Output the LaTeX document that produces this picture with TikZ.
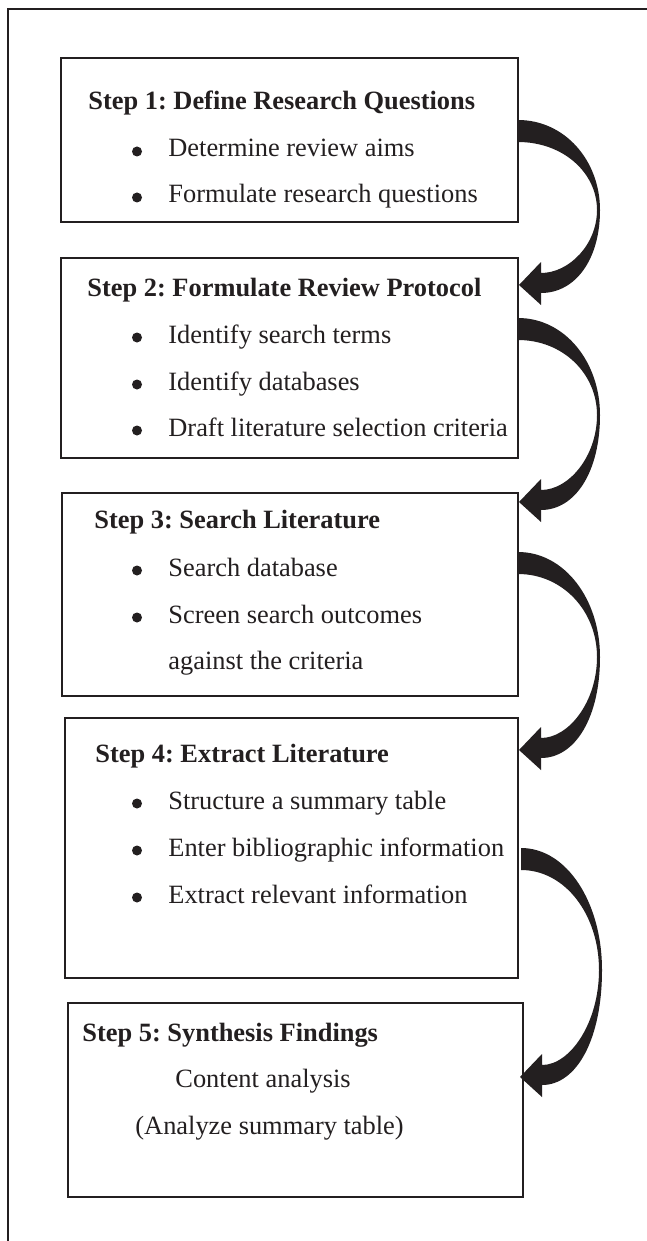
\documentclass[tikz,border=0pt]{standalone}
\usepackage{fontspec}
\setmainfont{Liberation Serif}
\usetikzlibrary{calc}
\definecolor{ink}{HTML}{231F20}
\frenchspacing

\tikzset{
  stepbox/.style={draw=ink, line width=1pt, rectangle, inner sep=0pt, outer sep=0pt},
  txt/.style={anchor=base west, inner sep=0pt, text=ink, font=\fontsize{13.2pt}{16pt}\selectfont},
  head/.style={txt, font=\fontsize{13.2pt}{16pt}\selectfont\bfseries},
  dot/.style={circle, fill=ink, inner sep=0pt, minimum size=5pt},
}

% Thick curved block arrow: #1 tail top point, #2 tip point,
% #3 horizontal bulge, #4 drop from tail to the widest point
\newcommand{\flowarrow}[4]{%
  \coordinate (fs) at #1;
  \coordinate (ft) at #2;
  \coordinate (fm) at ($(fs)+(#3,#4)$);
  \coordinate (fmi) at ($(fm)+(-3,0)$);
  \coordinate (fsb) at ($(fs)+(0,22)$);
  \coordinate (fto) at ($(ft)+(22,8)$);
  \coordinate (fti) at ($(ft)+(22,-12)$);
  \coordinate (fa) at (fs -| fm);
  \coordinate (fb) at (fm |- fs);
  \coordinate (fc) at (fm |- fto);
  \coordinate (fd) at (fto -| fm);
  \coordinate (fe) at (fti -| fmi);
  \coordinate (ff) at (fmi |- fti);
  \coordinate (fg) at (fmi |- fsb);
  \coordinate (fh) at (fsb -| fmi);
  \fill[ink] (fs) .. controls ($(fs)!0.57!(fa)$) and ($(fm)!0.55!(fb)$) .. (fm)
     .. controls ($(fm)!0.6!(fc)$) and ($(fto)!0.58!(fd)$) .. (fto)
     -- ($(ft)+(22,20)$) -- (ft) -- ($(ft)+(22,-23)$) -- (fti)
     .. controls ($(fti)!0.5!(fe)$) and ($(fmi)!0.55!(ff)$) .. (fmi)
     .. controls ($(fmi)!0.55!(fg)$) and ($(fsb)!0.57!(fh)$) .. (fsb) -- cycle;
}

\begin{document}
\begin{tikzpicture}[x=0.5pt, y=-0.5pt]
\useasboundingbox (0,0) rectangle (647,1241);
\fill[white] (0,0) rectangle (647,1241);

% page frame (top and left edges)
\draw[ink, line width=0.75pt] (647,9) -- (8,9) -- (8,1241);

% step boxes
\node[stepbox, minimum width=228.5pt, minimum height=82pt]  (b1) at (289.5,140) {};
\node[stepbox, minimum width=228.5pt, minimum height=100pt] (b2) at (289.5,358) {};
\node[stepbox, minimum width=228pt,   minimum height=101.5pt] (b3) at (290,594.5) {};
\node[stepbox, minimum width=226.5pt, minimum height=130pt] (b4) at (291.5,848) {};
\node[stepbox, minimum width=227.5pt, minimum height=97pt]  (b5) at (295.5,1100) {};

% Step 1
\node[head] (t1) at (88,110) {Step 1: Define Research Questions};
\node[dot] (d11) at (137,151.5) {};
\node[txt] (t11) at (168,157) {Determine review aims};
\node[dot] (d12) at (137,197.5) {};
\node[txt] (t12) at (168,203) {Formulate research questions};

% Step 2
\node[head] (t2) at (87,296) {Step 2: Formulate Review Protocol};
\node[dot] (d21) at (137,337.5) {};
\node[txt] (t21) at (168,343) {Identify search terms};
\node[dot] (d22) at (137,384.5) {};
\node[txt] (t22) at (168,390) {Identify databases};
\node[dot] (d23) at (137,430.5) {};
\node[txt] (t23) at (168,436) {Draft literature selection criteria};

% Step 3
\node[head] (t3) at (94,528) {Step 3: Search Literature};
\node[dot] (d31) at (137,570.5) {};
\node[txt] (t31) at (168,576) {Search database};
\node[dot] (d32) at (137,617.5) {};
\node[txt] (t32) at (168,623) {Screen search outcomes};
\node[txt] (t33) at (168,669) {against the criteria};

% Step 4
\node[head] (t4) at (95,762) {Step 4: Extract Literature};
\node[dot] (d41) at (137,803.5) {};
\node[txt] (t41) at (168,809) {Structure a summary table};
\node[dot] (d42) at (137,850.5) {};
\node[txt] (t42) at (168,856) {Enter bibliographic information};
\node[dot] (d43) at (137,897.5) {};
\node[txt] (t43) at (168,903) {Extract relevant information};

% Step 5
\node[head] (t5) at (82,1041) {Step 5: Synthesis Findings};
\node[txt] (t51) at (175,1087) {Content analysis};
\node[txt] (t52) at (135,1134) {(Analyze summary table)};

% curved arrows between the steps
\flowarrow{($(b1.north east)+(0,62)$)}{($(b2.north east)+(1,27)$)}{82}{90}
\flowarrow{($(b2.north east)+(0,60)$)}{($(b3.north east)+(1,9)$)}{82}{97}
\flowarrow{($(b3.north east)+(0,59)$)}{($(b4.north east)+(1,32)$)}{82}{105}
\flowarrow{($(b4.north east)+(3,130)$)}{($(b5.north east)+(-3,74)$)}{81}{122}
\end{tikzpicture}
\end{document}
